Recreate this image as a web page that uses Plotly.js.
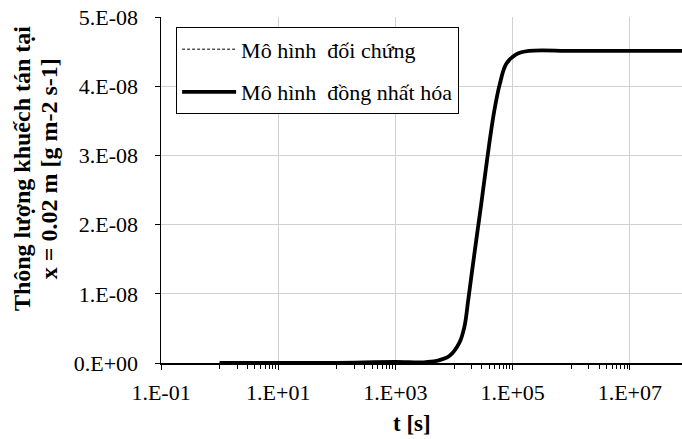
<!DOCTYPE html>
<html>
<head>
<meta charset="utf-8">
<script src="https://cdn.plot.ly/plotly-3.0.1.min.js"></script>
<style>html,body{margin:0;padding:0;background:#fff;}#chart{width:682px;height:439px;}</style>
</head>
<body>
<div id="chart"></div>
<script>
// Time [s]
const tValues = [1, 10, 100, 1000, 3000, 5000, 8300, 12300, 15100, 17400, 19950, 24000, 28840, 33900, 40700, 49000, 60300, 77600, 114800, 190500, 1e6, 1e7, 1e8];
// Flux, reference model (hidden under the homogenized curve)
const fluxReference = [0, 0.0005e-8, 0.003e-8, 0.015e-8, 0.01e-8, 0.03e-8, 0.10e-8, 0.29e-8, 0.53e-8, 0.90e-8, 1.28e-8, 1.78e-8, 2.27e-8, 2.72e-8, 3.22e-8, 3.66e-8, 4.03e-8, 4.32e-8, 4.46e-8, 4.51e-8, 4.51e-8, 4.51e-8, 4.51e-8];
// Flux, homogenized model
const fluxHomogenized = [0, 0.0005e-8, 0.003e-8, 0.015e-8, 0.01e-8, 0.03e-8, 0.10e-8, 0.29e-8, 0.53e-8, 0.90e-8, 1.28e-8, 1.78e-8, 2.27e-8, 2.72e-8, 3.22e-8, 3.66e-8, 4.03e-8, 4.32e-8, 4.46e-8, 4.51e-8, 4.51e-8, 4.51e-8, 4.51e-8];

const seriesNames = ["Mô hình  đối chứng", "Mô hình  đồng nhất hóa"];
const xTickVals = [0.1, 10, 1000, 1e5, 1e7];
const xTickText = ["1.E-01", "1.E+01", "1.E+03", "1.E+05", "1.E+07"];
const xMinorVals = [1,2,3,4,5,6,7,8,9,100,200,300,400,500,600,700,800,900,1e4,2e4,3e4,4e4,5e4,6e4,7e4,8e4,9e4,1e6,2e6,3e6,4e6,5e6,6e6,7e6,8e6,9e6];
const yTickVals = [0, 1e-8, 2e-8, 3e-8, 4e-8, 5e-8];
const yTickText = ["0.E+00", "1.E-08", "2.E-08", "3.E-08", "4.E-08", "5.E-08"];
const xTitle = "t [s]";
const yTitleLines = ["Thông lượng khuếch tán tại", "x = 0.02 m [g m-2 s-1]"];

const FONT = 'Times New Roman, Liberation Serif, Tinos, serif';

const traces = [
  {x: tValues, y: fluxReference, name: seriesNames[0], type: 'scatter', mode: 'lines',
   line: {color: '#000', width: 1, dash: '3px,2px', shape: 'spline', smoothing: 1}, legendgroup: 'a'},
  {x: tValues, y: fluxHomogenized, name: seriesNames[1], type: 'scatter', mode: 'lines',
   line: {color: '#000', width: 3.8, shape: 'spline', smoothing: 1}, legendgroup: 'b'}
];

const layout = {
  width: 682, height: 439,
  margin: {l: 161, r: 0, t: 16.5, b: 75.5},
  paper_bgcolor: '#fff', plot_bgcolor: '#fff',
  font: {family: FONT, size: 22, color: '#000'},
  showlegend: true,
  legend: {x: 0.029, y: 0.970, xanchor: 'left', yanchor: 'top', bgcolor: '#fff',
           bordercolor: '#000', borderwidth: 1, font: {family: FONT, size: 22, color: '#000'},
           traceorder: 'grouped', tracegroupgap: 11, itemwidth: 54},
  xaxis: {type: 'log', range: [-1.0, 7.89], tickmode: 'array', tickvals: xTickVals, ticktext: xTickText,
          showgrid: true, gridcolor: '#d0d0d0', gridwidth: 1, zeroline: false,
          showline: true, linecolor: '#000', linewidth: 1.5, ticks: 'outside', ticklen: 5, tickcolor: '#000', tickwidth: 1,
          ticklabelstandoff: 4,
          tickfont: {family: FONT, size: 22, color: '#000'},
          minor: {tickmode: 'array', tickvals: xMinorVals, ticks: 'outside', ticklen: 4, tickcolor: '#000', tickwidth: 1, showgrid: false}},
  yaxis: {range: [0, 5e-8], tickmode: 'array', tickvals: yTickVals, ticktext: yTickText,
          showgrid: true, gridcolor: '#d0d0d0', gridwidth: 1, zeroline: false,
          showline: true, linecolor: '#000', linewidth: 1.5, ticks: 'outside', ticklen: 5, tickcolor: '#000', tickwidth: 1,
          ticklabelstandoff: 12,
          tickfont: {family: FONT, size: 22, color: '#000'}},
  annotations: [
    {text: '<b>' + xTitle + '</b>', xref: 'paper', yref: 'paper', x: 0.482, y: -0.175, xanchor: 'center', yanchor: 'middle',
     showarrow: false, font: {family: FONT, size: 23, color: '#000'}},
    {text: '<b>' + yTitleLines[0] + '</b>', xref: 'paper', yref: 'paper', x: -0.267, y: 0.563, xanchor: 'center', yanchor: 'middle',
     textangle: -90, showarrow: false, font: {family: FONT, size: 24, color: '#000'}},
    {text: '<b>' + yTitleLines[1] + '</b>', xref: 'paper', yref: 'paper', x: -0.215, y: 0.563, xanchor: 'center', yanchor: 'middle',
     textangle: -90, showarrow: false, font: {family: FONT, size: 24, color: '#000'}}
  ]
};

Plotly.newPlot('chart', traces, layout, {displayModeBar: false, staticPlot: true});
</script>
</body>
</html>
